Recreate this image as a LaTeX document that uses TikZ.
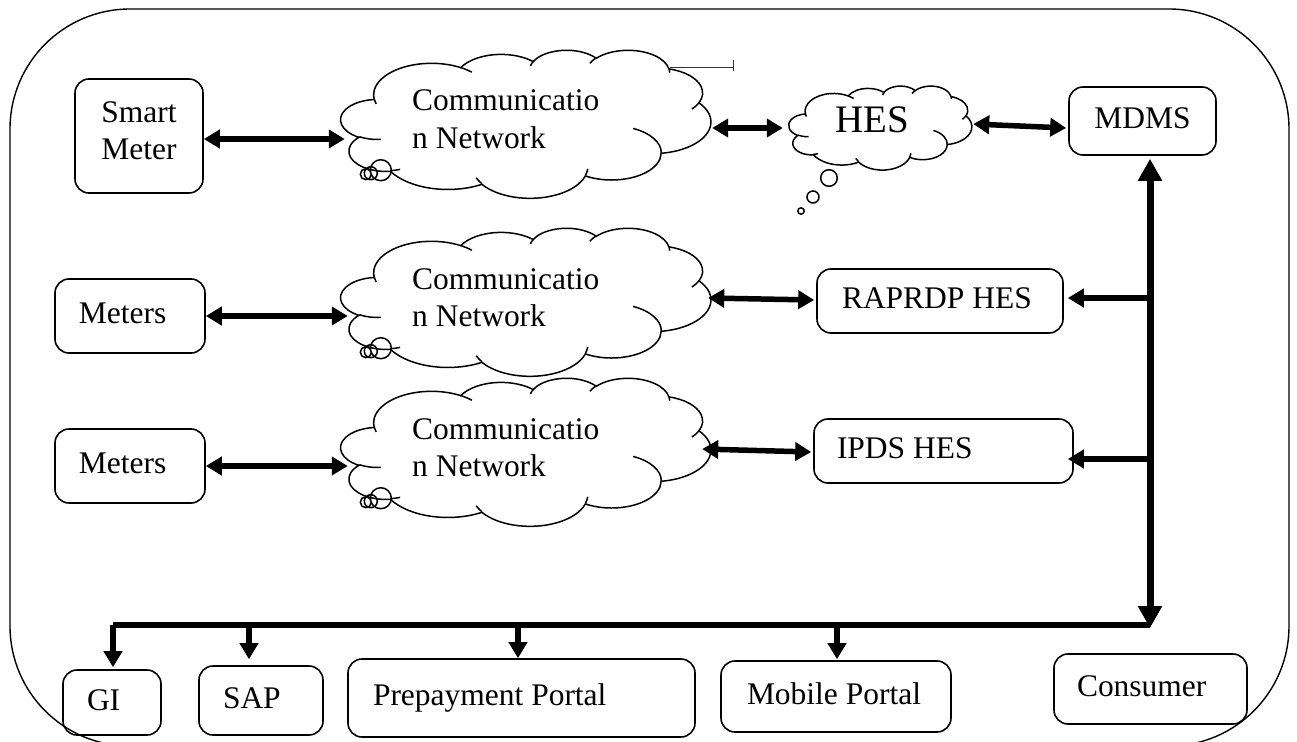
\documentclass[tikz,border=0pt]{standalone}
\usepackage{fontspec}
\setmainfont{Liberation Serif}
\usetikzlibrary{arrows.meta,calc}

% OOXML-style elliptical arc: radii a,b ; visual start angle, sweep (degrees)
\newcommand\oa[4]{arc[x radius=#1, y radius=#2,
  start angle={atan2((#1)*sin(#3),(#2)*cos(#3))},
  delta angle={mod(atan2((#1)*sin((#3)+(#4)),(#2)*cos((#3)+(#4)))-atan2((#1)*sin(#3),(#2)*cos(#3))+720,360)}]}

\newcommand\drawcloud[3]{%
  \begin{scope}[shift={(#1.north west)}, x=#2bp, y=-#3bp]
    \draw[cl, fill=white] (39.00,143.70)
      \oa{67.53}{91.90}{-190.4875}{123.7805}
      \oa{53.33}{72.67}{-144.1024}{89.9452}
      \oa{43.65}{59.45}{-145.8079}{99.7230}
      \oa{48.57}{65.95}{-130.9861}{117.2417}
      \oa{53.33}{72.73}{-78.7089}{109.0269}
      \oa{67.75}{92.20}{-46.2673}{130.2690}
      \oa{57.85}{78.67}{0.6250}{114.0333}
      \oa{67.52}{92.15}{22.4516}{115.1726}
      \oa{77.20}{105.43}{66.2426}{75.7110}
      \oa{43.60}{59.18}{-274.9421}{146.7356}
      \oa{43.45}{59.45}{-246.8285}{152.5189}
      -- cycle;
    \draw[cl]
      (46.93,261.77) \oa{43.45}{59.45}{86.742}{26.4295}
      (69.28,348.99) \oa{43.60}{59.18}{73.6105}{11.4475}
      (164.78,390.90) \oa{67.52}{92.15}{137.6242}{14.0811}
      (288.27,347.51) \oa{67.52}{92.15}{6.4533}{15.9984}
      (341.29,229.54) \oa{57.85}{78.67}{-70.67}{71.29}
      (418.23,154.62) \oa{53.33}{72.73}{30.33}{18.68}
      (383.24,54.26) \oa{48.57}{65.95}{-13.7443}{14.8589}
      (290.78,39.52) \oa{48.57}{65.95}{-149.1815}{18.1954}
      (221.41,47.20) \oa{43.65}{59.45}{-163.4943}{17.6864}
      (140.00,51.92) \oa{67.53}{91.90}{-66.707}{12.3194}
      (41.27,157.89) \oa{67.53}{91.90}{157.6544}{11.8582};
  \end{scope}}

\newcommand\cloudbubbles[1]{%
  \draw[cl] ($(#1.south west)+(25,-24)$) circle[radius=5.5]
            ($(#1.south west)+(30,-25)$) circle[radius=6.5]
            ($(#1.south west)+(40,-28)$) circle[radius=10.5];}

\newcommand\bxtext[2]{\spaceskip=0pt\xspaceskip=0pt\relax\hspace*{#1}#2}

\tikzset{
  frame/.style={line width=1.4bp, rounded corners=120bp},
  cl/.style={line width=1.5bp},
  ghost/.style={inner sep=0pt, draw=none},
  txt/.style={inner sep=0pt, anchor=base west},
  bxm/.style={draw, line width=1.6bp, rounded corners=14bp, inner sep=0pt},
  bx/.style={bxm, align=left, text height=21bp, text depth=6bp},
  dbl/.style={line width=5.5bp, >={Triangle[length=16bp,width=18bp]}, <->},
  arr/.style={line width=5.5bp, >={Triangle[length=16bp,width=18bp]}, ->},
  busline/.style={line width=7bp, >={Triangle[length=22bp,width=23bp]}, <->},
  hbar/.style={line width=5.5bp},
  stray/.style={line width=1bp, black!80}
}

\begin{document}
\begin{tikzpicture}[x=1bp, y=-1bp, every node/.append style={font=\fontsize{31.6}{37.1}\selectfont}]
\useasboundingbox (0,0) rectangle (1297,742);
\clip (0,0) rectangle (1297,742);

% outer frame
\draw[frame] (10,9) rectangle (1289,746);

% cloud placeholders
\node[ghost, minimum width=370bp, minimum height=148bp] (c1) at (526,124) {};
\node[ghost, minimum width=370bp, minimum height=148bp] (c2) at (526,302) {};
\node[ghost, minimum width=370bp, minimum height=148bp] (c3) at (526,452) {};
\node[ghost, minimum width=183bp, minimum height=84bp] (hes) at (880.5,128) {};

\drawcloud{c1}{0.85648}{0.34259}
\drawcloud{c2}{0.85648}{0.34259}
\drawcloud{c3}{0.85648}{0.34259}
\drawcloud{hes}{0.42361}{0.19444}

\cloudbubbles{c1}
\cloudbubbles{c2}
\cloudbubbles{c3}
\draw[cl] (829,178) circle[radius=8.3] (813,197) circle[radius=6] (801,211) circle[radius=3.2];

% stray line at cloud 1
\draw[stray] (670,68) -- (733,68) (733,60) -- (733,71);

% cloud texts
\node[txt] (c1a) at (412,111) {Communicatio};
\node[txt] (c1b) at (412,148) {n Network};
\node[txt] (c2a) at (412,289) {Communicatio};
\node[txt] (c2b) at (412,326) {n Network};
\node[txt] (c3a) at (412,439) {Communicatio};
\node[txt] (c3b) at (412,476) {n Network};
\node[txt, font=\fontsize{39.1}{45}\selectfont] (hest) at (835,132) {HES};

% boxes
\node[bxm, text width=128bp, minimum height=114bp, align=center] (sm) at (139,136) {Smart\\Meter\rule[-10bp]{0pt}{10bp}};
\node[bx, text width=147bp, minimum height=68bp, align=center] (md) at (1142.5,121) {MDMS};
\node[bx, text width=150bp, minimum height=74bp] (m1) at (130,316) {\bxtext{24bp}{Meters}};
\node[bx, text width=150bp, minimum height=74bp] (m2) at (130,466) {\bxtext{24bp}{Meters}};
\node[bx, text width=246bp, minimum height=64bp] (rap) at (940,301) {\bxtext{25bp}{RAPRDP HES}};
\node[bx, text width=259bp, minimum height=64bp] (ipds) at (943.5,451) {\bxtext{23bp}{IPDS HES}};
\node[bx, text width=98bp, minimum height=65bp] (gi) at (112,702.5) {\bxtext{24bp}{GI}};
\node[bx, text width=124bp, minimum height=69bp] (sap) at (261,700.5) {\bxtext{24bp}{SAP}};
\node[bx, text width=347bp, minimum height=78bp] (pp) at (521.5,698) {\bxtext{25bp}{Prepayment Portal}};
\node[bx, text width=230bp, minimum height=71bp] (mp) at (836,696.5) {\bxtext{26bp}{Mobile Portal}};
\node[bx, text width=193bp, minimum height=70bp] (cons) at (1150.5,689) {\bxtext{23bp}{Consumer}};

% connectors, top row
\draw[dbl] ($(sm.east)+(0,3)$) -- ($(sm.east -| c1.west)+(4,3)$);
\draw[dbl] ($(c1.east |- hes.west)+(1,0)$) -- ($(hes.west)+(-6,0)$);
\draw[dbl] ($(hes.east)+(1,-4)$) -- ($(md.west)+(-2,7)$);
% second and third rows
\draw[dbl] (m1.east) -- ($(m1.east -| c2.west)+(7,0)$);
\draw[dbl] ($(c2.east |- rap.west)+(-3,-3)$) -- ($(rap.west)+(-2,-1)$);
\draw[dbl] (m2.east) -- ($(m2.east -| c3.west)+(7,0)$);
\draw[dbl] ($(c3.east |- ipds.west)+(-9,-2)$) -- ($(ipds.west)+(-2,1)$);

% bus
\coordinate (bb) at (1150,628);
\coordinate (hl) at (113,625);
\coordinate (ts) at (249,622);
\coordinate (tp) at (518,622);
\coordinate (tm) at (837,622);
\draw[busline] (bb) -- ($(bb |- md.south)+(0,3)$);
\draw[arr] ($(bb |- rap.east)+(0,-3)$) -- ($(rap.east)+(4,-3)$);
\draw[arr] ($(bb |- ipds.east)+(0,8)$) -- ($(ipds.east)+(-6,8)$);
\draw[hbar] (hl) -- (hl -| bb);
\draw[arr] (hl) -- ($(hl |- gi.north)+(0,-2)$);
\draw[arr] (ts) -- ($(ts |- sap.north)+(0,-6)$);
\draw[arr] (tp) -- (tp |- pp.north);
\draw[arr] (tm) -- ($(tm |- mp.north)+(0,-1)$);
\end{tikzpicture}
\end{document}
